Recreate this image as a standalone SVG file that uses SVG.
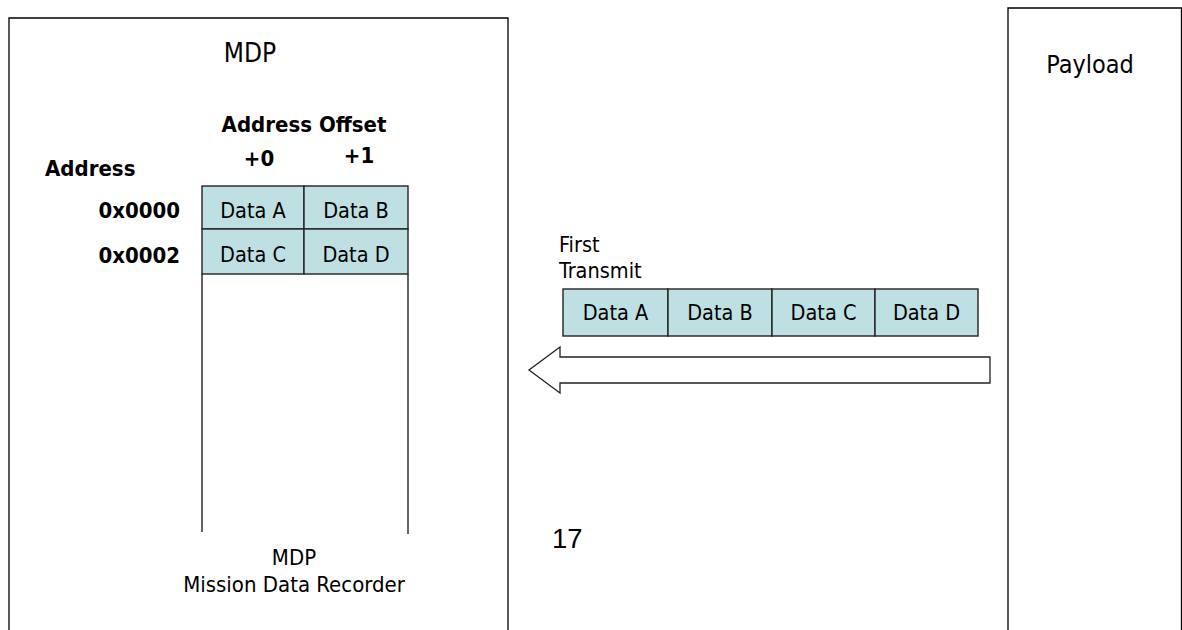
<svg xmlns="http://www.w3.org/2000/svg" width="1182" height="630" viewBox="0 0 1182 630">
<style>
.t{font-family:"DejaVu Sans Condensed","DejaVu Sans",sans-serif;font-stretch:condensed;fill:#000}
.b{font-weight:bold}
.box{fill:#fff;stroke:#000;stroke-width:1.3}
.cell{fill:#BEE0E2;stroke:#222;stroke-width:1.4}
.ln{stroke:#222;stroke-width:1.4;fill:none}
</style>
<rect width="1182" height="630" fill="#fff"/>
<g id="mdp">
<path class="box" d="M9,640 V18 H508 V640"/>
<text class="t" x="250" y="62" font-size="26" text-anchor="middle">MDP</text>
<text class="t" x="294" y="565" font-size="22" text-anchor="middle">MDP</text>
<text class="t" x="294" y="592" font-size="22" text-anchor="middle">Mission Data Recorder</text>
</g>
<g id="payload">
<path class="box" d="M1008,640 V8 H1181.5 V640"/>
<text class="t" x="1090" y="73" font-size="25" text-anchor="middle">Payload</text>
</g>
<g id="memory">
<text class="t b" x="304" y="132" font-size="22" text-anchor="middle">Address Offset</text>
<text class="t b" x="259" y="166" font-size="22" text-anchor="middle">+0</text>
<text class="t b" x="359" y="163" font-size="22" text-anchor="middle">+1</text>
<text class="t b" x="45" y="176" font-size="22">Address</text>
<text class="t b" x="180" y="218" font-size="22" text-anchor="end">0x0000</text>
<text class="t b" x="180" y="263" font-size="22" text-anchor="end">0x0002</text>
<path class="ln" d="M202,274 V532 M408,274 V534"/>
<rect class="cell" x="202" y="186" width="102" height="43"/>
<rect class="cell" x="304" y="186" width="104" height="43"/>
<rect class="cell" x="202" y="229" width="102" height="45"/>
<rect class="cell" x="304" y="229" width="104" height="45"/>
<text class="t" x="253" y="218" font-size="21.5" text-anchor="middle">Data A</text>
<text class="t" x="356" y="218" font-size="21.5" text-anchor="middle">Data B</text>
<text class="t" x="253" y="262" font-size="21.5" text-anchor="middle">Data C</text>
<text class="t" x="356" y="262" font-size="21.5" text-anchor="middle">Data D</text>
</g>
<g id="transmit">
<text class="t" x="559" y="252" font-size="21.5">First</text>
<text class="t" x="559" y="278" font-size="21.5">Transmit</text>
<rect class="cell" x="563" y="289" width="105" height="47"/>
<rect class="cell" x="668" y="289" width="104" height="47"/>
<rect class="cell" x="772" y="289" width="103" height="47"/>
<rect class="cell" x="875" y="289" width="103" height="47"/>
<text class="t" x="615.5" y="320" font-size="21.5" text-anchor="middle">Data A</text>
<text class="t" x="720" y="320" font-size="21.5" text-anchor="middle">Data B</text>
<text class="t" x="823.5" y="320" font-size="21.5" text-anchor="middle">Data C</text>
<text class="t" x="926.5" y="320" font-size="21.5" text-anchor="middle">Data D</text>
</g>
<g id="connectors">
<polygon points="990,357 560,357 560,347 529,370 560,393 560,383 990,383" fill="#fff" stroke="#222" stroke-width="1.3"/>
</g>
<g id="page">
<text x="552" y="548" font-family="'Liberation Sans',Arial,sans-serif" font-size="27.5">17</text>
</g>
</svg>
